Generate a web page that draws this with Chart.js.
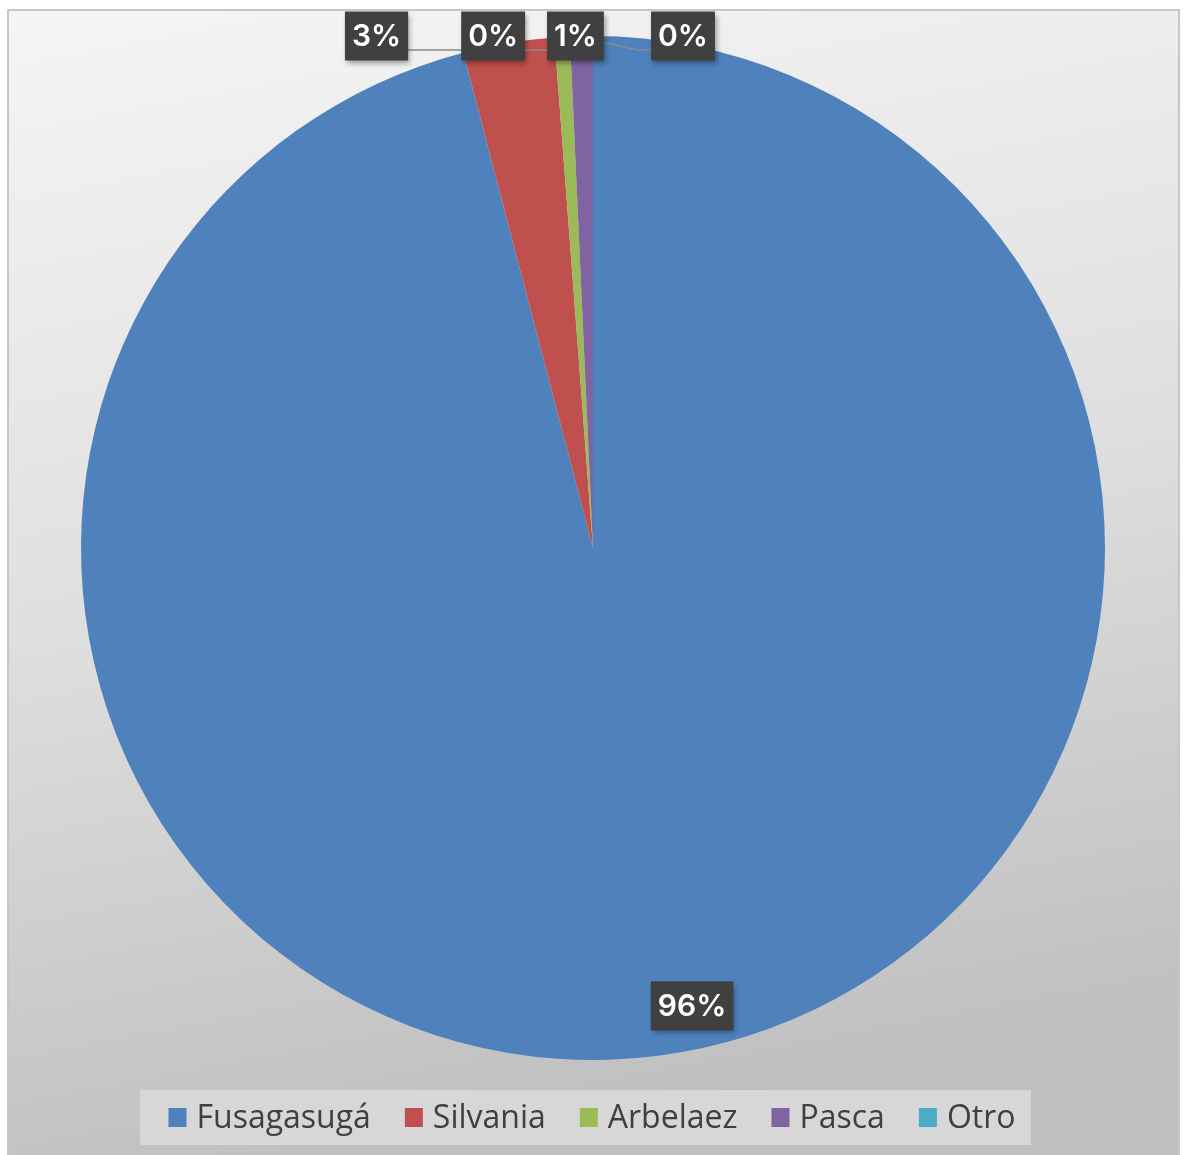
<!DOCTYPE html>
<html>
<head>
<meta charset="utf-8">
<script src="https://cdn.jsdelivr.net/npm/chart.js@4.4.1/dist/chart.umd.min.js"></script>
<style>
  html, body { margin: 0; padding: 0; background: #ffffff; }
  #wrap { width: 1187px; height: 1155px; position: relative; }
</style>
</head>
<body>
<div id="wrap"><canvas id="c" width="1187" height="1155"></canvas></div>
<script>
// Municipality of origin
const categories = ['Fusagasugá', 'Silvania', 'Arbelaez', 'Pasca', 'Otro'];
const counts = [400, 12, 2, 3, 0];
const percentLabels = ['96%', '3%', '0%', '1%', '0%'];
const sliceColors = ['#4f81bd', '#c0504d', '#9bbb59', '#8064a2', '#4bacc6'];

// Label placement: inside for the large slice, callouts above the pie for the small ones
const labelPlacement = [
  { inside: true, radiusFrac: 0.915, angleShift: -0.085 },
  { inside: false, dx: -132 },
  { inside: false, dx: -69 },
  { inside: false, dx: -6 },
  { inside: false, dx: 90 }
];

const framePlugin = {
  id: 'frame',
  beforeDraw(chart) {
    const ctx = chart.ctx;
    const W = chart.width, H = chart.height;
    ctx.save();
    ctx.fillStyle = '#ffffff';
    ctx.fillRect(0, 0, W, H);
    const g = ctx.createLinearGradient(200, 0, 420, H);
    g.addColorStop(0, '#f4f4f4');
    g.addColorStop(0.5, '#dfdfdf');
    g.addColorStop(1, '#bfbfbf');
    ctx.fillStyle = g;
    ctx.fillRect(8, 10, 1171, H - 10);
    ctx.strokeStyle = '#c6c6c6';
    ctx.lineWidth = 2;
    ctx.beginPath();
    ctx.moveTo(8, H);
    ctx.lineTo(8, 10);
    ctx.lineTo(1179, 10);
    ctx.lineTo(1179, H);
    ctx.stroke();
    ctx.restore();
  }
};

function drawBox(ctx, text, cx, cy) {
  ctx.font = '600 30px Inter, Lato, "Open Sans", sans-serif';
  const tw = ctx.measureText(text).width;
  const w = tw + 14, h = 49;
  ctx.save();
  ctx.shadowColor = 'rgba(0,0,0,0.35)';
  ctx.shadowBlur = 5;
  ctx.shadowOffsetX = 2;
  ctx.shadowOffsetY = 3;
  ctx.fillStyle = '#404040';
  ctx.fillRect(cx - w / 2, cy - h / 2, w, h);
  ctx.restore();
  ctx.fillStyle = '#ffffff';
  ctx.textAlign = 'center';
  ctx.textBaseline = 'middle';
  ctx.fillText(text, cx, cy + 1);
  return { w, h };
}

const labelPlugin = {
  id: 'sliceLabels',
  afterDatasetsDraw(chart) {
    const ctx = chart.ctx;
    const arcs = chart.getDatasetMeta(0).data;
    const top = chart.chartArea.top;
    const boxes = [];
    arcs.forEach((arc, i) => {
      const p = labelPlacement[i];
      const { x, y, startAngle, endAngle, outerRadius } = arc.getProps(['x', 'y', 'startAngle', 'endAngle', 'outerRadius'], true);
      const mid = (startAngle + endAngle) / 2;
      if (p.inside) {
        const a = mid + p.angleShift;
        boxes.push({ i, cx: x + Math.cos(a) * outerRadius * p.radiusFrac, cy: y + Math.sin(a) * outerRadius * p.radiusFrac });
      } else {
        const ex = x + Math.cos(mid) * outerRadius;
        const ey = y + Math.sin(mid) * outerRadius;
        boxes.push({ i, cx: ex + p.dx, cy: top, ex, ey });
      }
    });
    // leader lines first, boxes over them
    ctx.save();
    ctx.strokeStyle = '#8a8a8a';
    ctx.lineWidth = 1.5;
    boxes.forEach(b => {
      if (b.ex === undefined) return;
      const toLeft = b.i === 4;
      const sx = b.cx + (toLeft ? -29 : 29);
      const sy = b.cy + 14;
      ctx.beginPath();
      ctx.moveTo(sx, sy);
      ctx.lineTo(toLeft ? b.cx - 45 : b.ex - 8, sy);
      ctx.lineTo(b.ex, b.ey + 4);
      ctx.stroke();
    });
    ctx.restore();
    boxes.forEach(b => drawBox(ctx, percentLabels[b.i], b.cx, b.cy));
  }
};

const legendPlugin = {
  id: 'bottomLegend',
  afterDraw(chart) {
    const ctx = chart.ctx;
    ctx.save();
    ctx.fillStyle = '#d7d7d7';
    ctx.fillRect(140, 1090, 891, 55);
    ctx.font = '32px "Open Sans", Lato, sans-serif';
    ctx.textBaseline = 'alphabetic';
    ctx.textAlign = 'left';
    const marker = 18, gapMarker = 10, gapItem = 34;
    const widths = categories.map(c => ctx.measureText(c).width);
    const total = widths.reduce((s, w) => s + marker + gapMarker + w, 0) + gapItem * (categories.length - 1);
    let x = 592 - total / 2;
    const baseline = 1128;
    categories.forEach((c, i) => {
      ctx.fillStyle = sliceColors[i];
      ctx.fillRect(x, 1108, marker, marker + 1);
      x += marker + gapMarker;
      ctx.fillStyle = '#3f3f3f';
      ctx.fillText(c, x, baseline);
      x += widths[i] + gapItem;
    });
    ctx.restore();
  }
};

new Chart(document.getElementById('c'), {
  type: 'pie',
  data: {
    labels: categories,
    datasets: [{
      data: counts,
      backgroundColor: sliceColors,
      borderWidth: 0
    }]
  },
  options: {
    responsive: false,
    animation: false,
    rotation: 0,
    layout: { padding: { left: 81, right: 82, top: 36, bottom: 95 } },
    plugins: {
      legend: { display: false },
      tooltip: { enabled: false }
    }
  },
  plugins: [framePlugin, labelPlugin, legendPlugin]
});
</script>
</body>
</html>
